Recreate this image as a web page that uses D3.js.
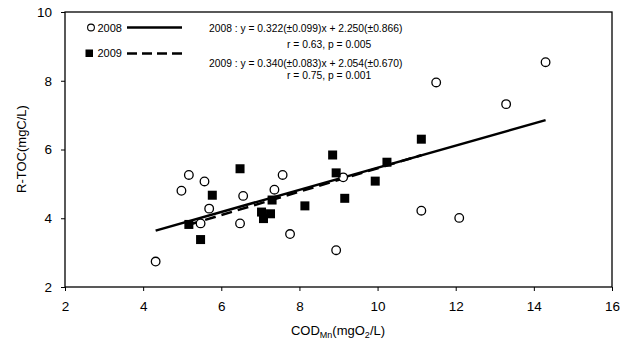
<!DOCTYPE html>
<html>
<head>
<meta charset="utf-8">
<script src="https://cdn.jsdelivr.net/npm/d3@7"></script>
<style>
  body { margin: 0; background: #fff; }
  text { font-family: "Liberation Sans", Arial, sans-serif; }
</style>
</head>
<body>
<svg id="chart" width="623" height="345"></svg>
<script>
// 2008 points (open circles)
const cod2008 = [4.32, 4.98, 5.17, 5.57, 5.47, 5.69, 6.56, 6.48, 7.36, 7.57, 7.76, 9.12, 8.94, 11.12, 12.09, 14.30, 11.50, 13.29];
const toc2008 = [2.74, 4.80, 5.26, 5.07, 3.85, 4.28, 4.65, 3.85, 4.83, 5.26, 3.54, 5.19, 3.07, 4.22, 4.01, 8.54, 7.95, 7.32];
// 2009 points (filled squares)
const cod2009 = [5.17, 5.47, 5.77, 6.48, 7.03, 7.08, 7.26, 7.30, 8.14, 8.85, 8.94, 9.16, 9.94, 10.24, 11.12];
const toc2009 = [3.82, 3.38, 4.67, 5.44, 4.18, 3.99, 4.13, 4.53, 4.36, 5.84, 5.32, 4.58, 5.08, 5.63, 6.30];
// regression coefficients [slope, intercept]
const fit2008 = [0.322, 2.250];
const fit2009 = [0.340, 2.054];
const xTicks = [2, 4, 6, 8, 10, 12, 14, 16];
const yTicks = [2, 4, 6, 8, 10];
const eqLabels = [
  "2008 : y = 0.322(\u00b10.099)x + 2.250(\u00b10.866)",
  "r = 0.63, p = 0.005",
  "2009 : y = 0.340(\u00b10.083)x + 2.054(\u00b10.670)",
  "r = 0.75, p = 0.001"
];

const svg = d3.select('#chart');
const m = { left: 65, right: 612, top: 12, bottom: 287 };

const x = d3.scaleLinear().domain([2, 16]).range([m.left, m.right]);
const y = d3.scaleLinear().domain([2, 10]).range([m.bottom, m.top]);

// axes
svg.append('g')
  .attr('transform', 'translate(0,' + m.bottom + ')')
  .call(d3.axisBottom(x).tickValues(xTicks).tickSize(4).tickPadding(10))
  .call(g => g.select('.domain').remove())
  .selectAll('text').style('font-size', '13.5px').attr('fill', '#000');

svg.append('g')
  .attr('transform', 'translate(' + m.left + ',0)')
  .call(d3.axisLeft(y).tickValues(yTicks).tickSize(4).tickPadding(9))
  .call(g => g.select('.domain').remove())
  .selectAll('text').style('font-size', '13.5px').attr('fill', '#000');

// frame
svg.append('rect')
  .attr('x', m.left).attr('y', m.top)
  .attr('width', m.right - m.left).attr('height', m.bottom - m.top)
  .attr('fill', 'none').attr('stroke', '#000').attr('stroke-width', 1.3);

// regression lines
const line = d3.line().x(d => x(d[0])).y(d => y(d[1]));
function fitLine(xs, fit) {
  const ext = d3.extent(xs);
  return ext.map(v => [v, fit[0] * v + fit[1]]);
}
svg.append('path')
  .attr('d', line(fitLine(cod2008, fit2008)))
  .attr('stroke', '#000').attr('stroke-width', 2.5).attr('fill', 'none');
svg.append('path')
  .attr('d', line(fitLine(cod2009, fit2009)))
  .attr('stroke', '#000').attr('stroke-width', 2.5).attr('fill', 'none')
  .attr('stroke-dasharray', '11,6');

// points
svg.append('g').selectAll('circle')
  .data(d3.zip(cod2008, toc2008))
  .enter().append('circle')
  .attr('cx', d => x(d[0])).attr('cy', d => y(d[1]))
  .attr('r', 4.3)
  .attr('fill', '#fff').attr('stroke', '#000').attr('stroke-width', 1.3);

svg.append('g').selectAll('rect')
  .data(d3.zip(cod2009, toc2009))
  .enter().append('rect')
  .attr('x', d => x(d[0]) - 4.5).attr('y', d => y(d[1]) - 4.5)
  .attr('width', 9).attr('height', 9)
  .attr('fill', '#000');

// legend
const lg = svg.append('g');
lg.append('circle').attr('cx', 91).attr('cy', 27.5).attr('r', 3.4)
  .attr('fill', '#fff').attr('stroke', '#000').attr('stroke-width', 1.1);
lg.append('text').attr('x', 97.5).attr('y', 31.5).style('font-size', '11px').text('2008');
lg.append('line').attr('x1', 127).attr('x2', 182).attr('y1', 27.5).attr('y2', 27.5)
  .attr('stroke', '#000').attr('stroke-width', 2.5);
lg.append('rect').attr('x', 85.5).attr('y', 49.5).attr('width', 7.5).attr('height', 7.5)
  .attr('fill', '#000');
lg.append('text').attr('x', 97.5).attr('y', 57).style('font-size', '11px').text('2009');
lg.append('line').attr('x1', 127).attr('x2', 182).attr('y1', 53.5).attr('y2', 53.5)
  .attr('stroke', '#000').attr('stroke-width', 2.5).attr('stroke-dasharray', '10,5');

// equations
const eqPos = [[209, 32], [287, 47.5], [209, 66.5], [287, 79]];
svg.append('g').selectAll('text')
  .data(eqLabels)
  .enter().append('text')
  .attr('x', (d, i) => eqPos[i][0]).attr('y', (d, i) => eqPos[i][1])
  .style('font-size', '10.3px')
  .text(d => d);

// axis titles
svg.append('text')
  .attr('transform', 'translate(26,149) rotate(-90)')
  .attr('text-anchor', 'middle')
  .style('font-size', '13px')
  .text('R-TOC(mgC/L)');

const xt = svg.append('text')
  .attr('x', 338).attr('y', 335)
  .attr('text-anchor', 'middle')
  .style('font-size', '13px');
xt.append('tspan').text('COD');
xt.append('tspan').attr('dy', 3).style('font-size', '9px').text('Mn');
xt.append('tspan').attr('dy', -3).text('(mgO');
xt.append('tspan').attr('dy', 3).style('font-size', '9px').text('2');
xt.append('tspan').attr('dy', -3).text('/L)');
</script>
</body>
</html>
